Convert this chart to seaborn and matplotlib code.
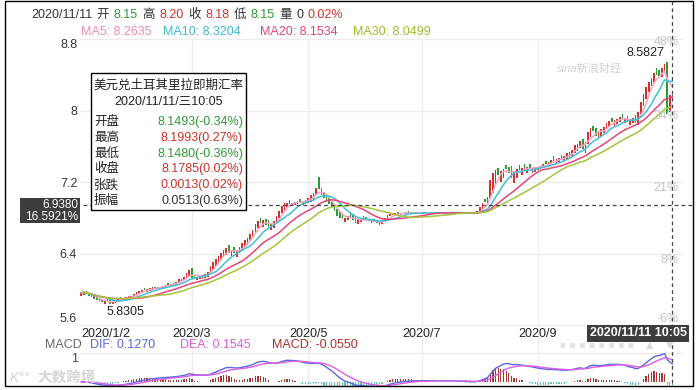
import numpy as np
import pandas as pd
import seaborn as sns
import matplotlib.pyplot as plt
from matplotlib.patches import Rectangle
from matplotlib.lines import Line2D

W, H = 699, 390

# 美元兑土耳其里拉 日K 开盘 / 收盘 (按月)
jan_open = [5.93, 5.94, 5.98, 5.96, 5.94, 5.92, 5.91, 5.90, 5.89, 5.84, 5.89, 5.88, 5.84, 5.85, 5.86, 5.91, 5.87, 5.88, 5.89, 5.90, 5.91, 5.93]
jan_close = [5.96, 5.97, 5.95, 5.93, 5.91, 5.89, 5.88, 5.87, 5.86, 5.87, 5.86, 5.84, 5.87, 5.88, 5.89, 5.89, 5.90, 5.91, 5.92, 5.93, 5.95, 5.97]
feb_open = [5.95, 5.96, 6.01, 5.97, 5.98, 5.99, 6.03, 6.00, 6.00, 6.01, 6.02, 6.07, 6.03, 6.04, 6.05, 6.07, 6.09, 6.10, 6.12, 6.14]
feb_close = [5.98, 5.99, 5.99, 6.00, 6.01, 6.02, 6.01, 6.03, 6.03, 6.04, 6.05, 6.05, 6.06, 6.07, 6.08, 6.11, 6.12, 6.14, 6.18, 6.21]
mar_open = [6.24, 6.16, 6.10, 6.11, 6.12, 6.13, 6.14, 6.18, 6.22, 6.26, 6.29, 6.33, 6.36, 6.38, 6.49, 6.37, 6.47, 6.36, 6.40, 6.44, 6.47, 6.50]
mar_close = [6.13, 6.12, 6.14, 6.15, 6.16, 6.17, 6.19, 6.26, 6.30, 6.34, 6.37, 6.41, 6.44, 6.46, 6.41, 6.43, 6.40, 6.44, 6.47, 6.52, 6.55, 6.57]
apr_open = [6.54, 6.58, 6.64, 6.68, 6.80, 6.70, 6.79, 6.77, 6.66, 6.69, 6.74, 6.80, 6.85, 6.89, 6.92, 7.00, 6.93, 6.94, 6.95, 7.01, 6.94, 6.95]
apr_close = [6.62, 6.66, 6.73, 6.76, 6.74, 6.77, 6.72, 6.70, 6.73, 6.76, 6.82, 6.88, 6.93, 6.96, 6.97, 6.95, 6.97, 6.98, 6.99, 6.97, 6.98, 7.00]
may_open = [6.96, 6.98, 7.01, 7.05, 7.26, 7.13, 7.09, 7.05, 7.02, 6.99, 6.95, 6.90, 6.87, 6.85, 6.75, 6.77, 6.86, 6.84, 6.81, 6.73, 6.75]
may_close = [7.02, 7.05, 7.08, 7.13, 7.12, 7.05, 7.02, 6.98, 6.95, 6.92, 6.87, 6.82, 6.80, 6.79, 6.80, 6.82, 6.80, 6.77, 6.74, 6.78, 6.80]
jun_open = [6.82, 6.81, 6.79, 6.74, 6.79, 6.77, 6.72, 6.73, 6.75, 6.79, 6.82, 6.83, 6.83, 6.86, 6.83, 6.84, 6.84, 6.87, 6.86, 6.84, 6.86, 6.84]
jun_close = [6.78, 6.77, 6.76, 6.77, 6.75, 6.74, 6.75, 6.76, 6.80, 6.83, 6.84, 6.84, 6.85, 6.84, 6.85, 6.85, 6.86, 6.85, 6.85, 6.86, 6.85, 6.85]
jul_open = [6.84, 6.85, 6.86, 6.84, 6.85, 6.85, 6.86, 6.85, 6.85, 6.86, 6.85, 6.85, 6.85, 6.86, 6.85, 6.85, 6.86, 6.86, 6.85, 6.85, 6.84, 6.84, 6.86]
jul_close = [6.85, 6.86, 6.85, 6.85, 6.86, 6.86, 6.85, 6.86, 6.86, 6.85, 6.86, 6.86, 6.86, 6.85, 6.86, 6.86, 6.85, 6.85, 6.84, 6.84, 6.85, 6.88, 6.92]
aug_open = [6.88, 7.01, 6.94, 7.02, 7.08, 7.18, 7.36, 7.20, 7.24, 7.39, 7.37, 7.38, 7.19, 7.25, 7.39, 7.28, 7.40, 7.30, 7.40, 7.30, 7.31]
aug_close = [6.96, 6.98, 7.03, 7.22, 7.30, 7.33, 7.28, 7.32, 7.35, 7.34, 7.30, 7.25, 7.32, 7.35, 7.33, 7.36, 7.34, 7.37, 7.35, 7.36, 7.37]
sep_open = [7.33, 7.34, 7.36, 7.44, 7.37, 7.40, 7.49, 7.41, 7.42, 7.50, 7.43, 7.45, 7.47, 7.49, 7.53, 7.55, 7.58, 7.68, 7.53, 7.62, 7.70, 7.83]
sep_close = [7.37, 7.38, 7.40, 7.40, 7.42, 7.45, 7.44, 7.46, 7.47, 7.46, 7.49, 7.52, 7.54, 7.56, 7.61, 7.63, 7.66, 7.57, 7.65, 7.76, 7.80, 7.77]
oct_open = [7.80, 7.70, 7.72, 7.75, 7.79, 7.82, 7.92, 7.83, 7.85, 7.87, 7.96, 7.86, 7.94, 7.84, 7.86, 7.95, 7.84, 7.96, 8.05, 8.13, 8.21, 8.27]
oct_close = [7.72, 7.76, 7.79, 7.82, 7.86, 7.88, 7.87, 7.89, 7.91, 7.93, 7.90, 7.91, 7.87, 7.88, 7.92, 7.86, 7.98, 8.10, 8.18, 8.264, 8.32, 8.36]
nov_open = [8.32, 8.47, 8.45, 8.38, 8.42, 8.54, 7.98, 8.1493]
nov_close = [8.42, 8.40, 8.39, 8.48, 8.52, 7.96, 8.1772, 8.1785]

price_ticks = [5.6, 6.4, 7.2, 8.0, 8.8]
price_labels = ['5.6', '6.4', '7.2', '8', '8.8']
pct_labels = ['-6%', '8%', '21%', '34%', '48%']
date_labels = ['2020/1/2', '2020/3', '2020/5', '2020/7', '2020/9']
label_months = [3, 5, 7, 9]
ma_windows = [5, 10, 20, 30]

box_title = '美元兑土耳其里拉即期汇率'
box_date = '2020/11/11/三10:05'
box_names = ['开盘', '最高', '最低', '收盘', '张跌', '振幅']
box_values = ['8.1493(-0.34%)', '8.1993(0.27%)', '8.1480(-0.36%)',
              '8.1785(0.02%)', '0.0013(0.02%)', '0.0513(0.63%)']

RED = '#cc3329'
GREEN = '#2e9a35'
TXT = '#333333'
GRID = '#ececec'
ma_colors = ['#f5a6c0', '#3fbfd8', '#e3457a', '#a6c43a']

sns.set_theme(style='white')
plt.rcParams['font.family'] = ['Liberation Sans', 'Noto Sans CJK SC', 'DejaVu Sans']
plt.rcParams['axes.unicode_minus'] = False

opens = np.array(jan_open + feb_open + mar_open + apr_open + may_open + jun_open +
                 jul_open + aug_open + sep_open + oct_open + nov_open)
closes = np.array(jan_close + feb_close + mar_close + apr_close + may_close + jun_close +
                  jul_close + aug_close + sep_close + oct_close + nov_close)
dates = pd.bdate_range('2020-01-02', '2020-11-11')

df = pd.DataFrame({'i': np.arange(len(closes)), 'open': opens, 'close': closes}, index=dates)
for n in ma_windows:
    df[f'ma{n}'] = df['close'].rolling(n, min_periods=1).mean()
ema12 = df['close'].ewm(span=12, adjust=False).mean()
ema26 = df['close'].ewm(span=26, adjust=False).mean()
df['dif'] = ema12 - ema26
df['dea'] = df['dif'].ewm(span=9, adjust=False).mean()
df['macd'] = 2 * (df['dif'] - df['dea'])

month_start = [int(np.argmax(dates.month == m)) for m in label_months]


def fx(px):
    return px / W


def fy(py):
    return 1 - py / H


fig = plt.figure(figsize=(W / 100, H / 100), dpi=100)
L, R = 80, 682
ax = fig.add_axes([fx(L), fy(325), (R - L) / W, (325 - 39) / H])
ax2 = fig.add_axes([fx(L), fy(386), (R - L) / W, (386 - 353) / H])
xlim = (-0.4, 227.6)
unit = (R - L) / (xlim[1] - xlim[0])


def xpix(i):
    return L + (i - xlim[0]) * unit


# ---- K线 + 均线 ----
up = df['close'] >= df['open']
body_lo = np.minimum(opens, closes)
body_h = np.maximum(np.abs(closes - opens), 0.008)
ax.bar(df['i'], body_h, bottom=body_lo, width=0.62,
       color=np.where(up, RED, GREEN), linewidth=0, zorder=2)
for n, c in zip(ma_windows, ma_colors):
    sns.lineplot(data=df, x='i', y=f'ma{n}', ax=ax, color=c, lw=1.1, zorder=3, legend=False)

ax.set_xlim(*xlim)
ax.set_ylim(5.6, 8.8)
ax.set_yticks(price_ticks, price_labels)
ax.set_xticks([0] + month_start, date_labels)
ax.tick_params(axis='y', length=0, pad=2, labelsize=9, labelcolor=TXT)
ax.tick_params(axis='x', length=0, pad=2.5, labelsize=9, labelcolor='#222222')
ylabs = ax.get_yticklabels()
ylabs[0].set_va('bottom')
ylabs[-1].set_va('top')
ax.get_xticklabels()[0].set_ha('left')
ax.set_xlabel('')
ax.set_ylabel('')
ax.grid(False)
for p in price_ticks:
    ax.axhline(p, color=GRID, lw=0.9, zorder=0, clip_on=False)
for m in month_start:
    ax.axvline(m, color=GRID, lw=0.9, zorder=0)
for s in ax.spines.values():
    s.set_visible(False)

for lab, p in zip(pct_labels, [319, 260, 188, 116, 42]):
    fig.text(fx(679), fy(p), lab, ha='right', va='center', fontsize=9, color='#c4c4c4')

# 最高 / 最低 标注
peak_i = int(np.argmax(np.maximum(opens, closes)))
low_i = int(np.argmin(np.minimum(opens, closes)))
ax.text(peak_i - 1.2, 8.645, '8.5827', ha='right', va='center', fontsize=9, color='#222222')
ax.text(low_i + 0.8, 5.745, '5.8305', ha='left', va='center', fontsize=9, color='#222222')

# 十字光标
ax.axhline(6.938, xmin=0.005, xmax=(693 - L) / (R - L), color='#444444', lw=0.9,
           ls=(0, (3, 2.5)), zorder=4, clip_on=False)
fig.add_artist(Line2D([fx(672.4), fx(672.4)], [fy(1), fy(386)], color='#444444', lw=0.9,
                      ls=(0, (3, 2.5)), zorder=4))

# ---- MACD ----
bar_cols = np.where(df['macd'] >= 0, '#a5362f', '#5ec6b6')
ax2.bar(df['i'], df['macd'], width=0.45, color=bar_cols, linewidth=0, zorder=2)
sns.lineplot(data=df, x='i', y='dif', ax=ax2, color='#5b66e0', lw=1.0, zorder=3, legend=False)
sns.lineplot(data=df, x='i', y='dea', ax=ax2, color='#dc5ee3', lw=1.0, zorder=3, legend=False)
top = df['dif'].max() * 1.02
ax2.set_xlim(*xlim)
ax2.set_ylim(-top * 4 / 29, top)
ax2.set_xticks([])
ax2.set_yticks([])
ax2.set_xlabel('')
ax2.set_ylabel('')
ax2.grid(False)
ax2.axhline(top, color=GRID, lw=0.9, zorder=0, clip_on=False)
for m in month_start:
    ax2.axvline(m, color=GRID, lw=0.9, zorder=0)
for s in ax2.spines.values():
    s.set_visible(False)
for m in month_start:
    fig.add_artist(Line2D([fx(xpix(m)), fx(xpix(m))], [fy(325), fy(353)], color=GRID, lw=0.9, zorder=0))
fig.text(fx(78), fy(359), '1', ha='right', va='center', fontsize=9, color='#444444')

# ---- 顶部行情 ----
fig.canvas.draw()
rend = fig.canvas.get_renderer()
parts = [('2020/11/11', TXT), ('开', TXT), ('8.15', GREEN), ('高', TXT), ('8.20', RED),
         ('收', TXT), ('8.18', RED), ('低', TXT), ('8.15', GREEN), ('量', TXT), ('0', TXT),
         ('0.02%', RED)]
x = 31
for s, c in parts:
    t = fig.text(fx(x), fy(15), s, ha='left', va='center', fontsize=9, color=c)
    x += t.get_window_extent(renderer=rend).width + 4.5

ma_texts = ['MA5: 8.2635', 'MA10: 8.3204', 'MA20: 8.1534', 'MA30: 8.0499']
ma_txt_cols = ['#f08cb2', '#3bb8d4', '#e0457c', '#9dbb2a']
for s, c, px in zip(ma_texts, ma_txt_cols, [81, 163, 260, 353]):
    fig.text(fx(px), fy(32), s, ha='left', va='center', fontsize=9, color=c)

macd_texts = [('MACD', '#666666', 45), ('DIF: 0.1270', '#5b66e0', 90),
              ('DEA: 0.1545', '#d95ee0', 180), ('MACD: -0.0550', '#a8342f', 272)]
for s, c, px in macd_texts:
    fig.text(fx(px), fy(345), s, ha='left', va='center', fontsize=9, color=c)

# 缩放控件
fig.add_artist(Line2D([fx(560), fx(637)], [fy(345), fy(345)], color='#e2e2e2', lw=3.5,
                      ls=(0, (1, 1))))
fig.text(fx(650), fy(345), '▲', ha='center', va='center', fontsize=7, color='#dadada', family='DejaVu Sans')
fig.text(fx(670), fy(345), '▼', ha='center', va='center', fontsize=7, color='#dadada', family='DejaVu Sans')

# ---- 信息框 ----
fig.add_artist(Rectangle((fx(91), fy(210)), (246 - 91) / W, (210 - 73) / H, transform=fig.transFigure,
                         facecolor='white', edgecolor='black', lw=1, zorder=5))
fig.text(fx(168.5), fy(86), box_title, ha='center', va='center', fontsize=9, color='#222222', zorder=6)
fig.text(fx(168.5), fy(102), box_date, ha='center', va='center', fontsize=9, color='#222222', zorder=6)
val_cols = [GREEN, RED, GREEN, RED, RED, TXT]
for k, (nm, v, c) in enumerate(zip(box_names, box_values, val_cols)):
    yy = 122 + k * 15.8
    fig.text(fx(94), fy(yy), nm, ha='left', va='center', fontsize=9, color='#222222', zorder=6)
    fig.text(fx(243), fy(yy), v, ha='right', va='center', fontsize=9, color=c, zorder=6)

# 十字光标标签
fig.add_artist(Rectangle((fx(20), fy(223)), (80 - 20) / W, 25 / H, transform=fig.transFigure,
                         facecolor='#3d3d3d', edgecolor='none', zorder=5))
fig.text(fx(78), fy(204.5), '6.9380', ha='right', va='center', fontsize=8.5, color='white', zorder=6)
fig.text(fx(78), fy(216.5), '16.5921%', ha='right', va='center', fontsize=8.5, color='white', zorder=6)

fig.text(fx(638), fy(333.5), '2020/11/11 10:05', ha='center', va='center', fontsize=9,
         color='white', weight='bold', zorder=6,
         bbox=dict(boxstyle='square,pad=0.18', facecolor='#3d3d3d', edgecolor='none'))

# 水印
fig.text(fx(622), fy(68), 'sina新浪财经', ha='right', va='center', fontsize=8, color='#d2d2d2', style='italic')
fig.text(fx(10), fy(378), 'K°°', ha='left', va='center', fontsize=10, color='#d6d6d6', style='italic')
fig.text(fx(37), fy(378), '大数跨境', ha='left', va='center', fontsize=10.5, color='#d6d6d6', weight='bold')

# 外框
fig.add_artist(Rectangle((fx(5), fy(386)), (693 - 5) / W, (386 - 1) / H, transform=fig.transFigure,
                         fill=False, edgecolor='black', lw=1, zorder=7))

fig.savefig('out.png', dpi=100, facecolor='white')
